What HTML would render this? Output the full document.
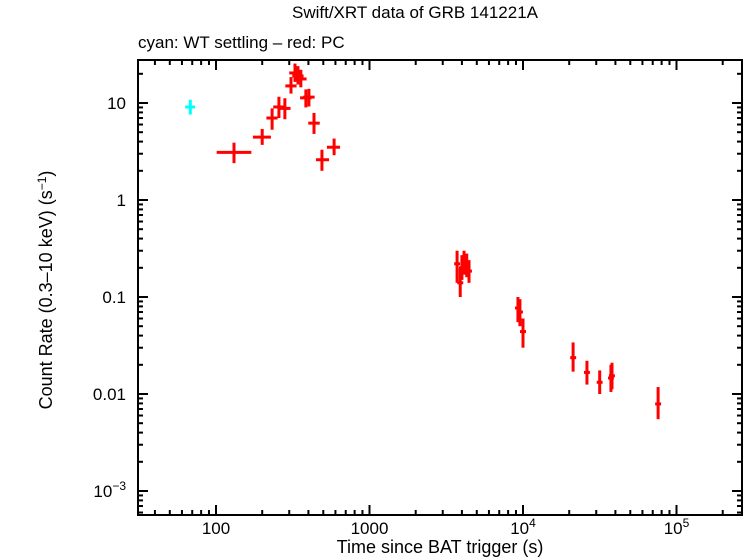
<!DOCTYPE html>
<html><head><meta charset="utf-8"><style>
html,body{margin:0;padding:0;background:#fff;}
svg{display:block;font-family:"Liberation Sans",sans-serif;}
</style></head><body>
<svg id="chart" width="746" height="558" viewBox="0 0 746 558" xmlns="http://www.w3.org/2000/svg">
<text x="415" y="18" font-size="17" text-anchor="middle">Swift/XRT data of GRB 141221A</text>
<text x="138" y="48" font-size="17">cyan: WT settling – red: PC</text>
<text x="440" y="553" font-size="18" text-anchor="middle">Time since BAT trigger (s)</text>
<text transform="translate(52,290) rotate(-90)" font-size="18" text-anchor="middle">Count Rate (0.3–10 keV) (s<tspan dy="-6" font-size="12">−1</tspan><tspan dy="6">)</tspan></text>
<g id="marks"></g>
<g id="axes"></g>
</svg>
<script>
// cyan WT series: time, time err low/high, rate, rate low/high
const wtT=[68], wtTlo=[63], wtThi=[73], wtR=[9.1], wtRlo=[7.6], wtRhi=[10.8];
// red PC series
const pcT=[131,200,232,257,281,308,327,342,357,385,403,435,490,588,3720,3900,4000,4130,4300,4450,9270,9550,10000,21200,26100,31600,37400,38000,75900];
const pcTlo=[101,174,213,236,258,283,300,314,328,353,370,399,448,528,3560,3730,3830,3950,4110,4250,8870,9130,9560,20300,24950,30200,35800,36300,72600];
const pcThi=[170,228,252,280,306,335,356,372,389,419,439,474,545,643,3890,4080,4180,4320,4500,4650,9690,9990,10460,22200,27300,33000,39100,39700,79400];
const pcR=[3.1,4.45,7.0,9.1,8.8,15,20.4,19,17.7,11.3,11.5,6.2,2.6,3.5,0.22,0.14,0.2,0.23,0.21,0.185,0.077,0.07,0.044,0.0237,0.0167,0.0132,0.0146,0.0154,0.0079];
const pcRlo=[2.4,3.7,5.3,7.0,6.8,12.5,16.5,15.5,14.5,9.0,9.2,4.8,2.0,2.9,0.14,0.10,0.15,0.17,0.16,0.14,0.055,0.05,0.03,0.017,0.0125,0.0100,0.0105,0.0112,0.0055];
const pcRhi=[3.9,5.4,8.8,11.6,11.2,18.5,25.5,24,22,13.8,14,7.9,3.3,4.3,0.30,0.20,0.27,0.30,0.28,0.24,0.10,0.095,0.060,0.034,0.022,0.0175,0.0200,0.0210,0.0118];
const xTickVals=[100,1000,10000,100000];
const yTickVals=[10,1,0.1,0.01,0.001];

const L=138,R=742,T=60,B=515;
const X=t=>216+153.5*(Math.log10(t)-2);
const Y=r=>103-97*(Math.log10(r)-1);
const NS="http://www.w3.org/2000/svg";
function mk(tag,attrs,parent){const e=document.createElementNS(NS,tag);for(const k in attrs)e.setAttribute(k,attrs[k]);parent.appendChild(e);return e;}
const marks=document.getElementById('marks'), axes=document.getElementById('axes');

function drawSeries(T_,Tl,Th,Rv,Rl,Rh,color,nm){
  for(let i=0;i<T_.length;i++){
    const g=mk('g',{stroke:color,'stroke-width':3},marks);
    
    
    mk('line',{x1:X(Tl[i]),x2:X(Th[i]),y1:Y(Rv[i]),y2:Y(Rv[i])},g);
    mk('line',{x1:X(T_[i]),x2:X(T_[i]),y1:Y(Rl[i]),y2:Y(Rh[i])},g);
  }
}
drawSeries(wtT,wtTlo,wtThi,wtR,wtRlo,wtRhi,'#00ffff','wt');
drawSeries(pcT,pcTlo,pcThi,pcR,pcRlo,pcRhi,'#ff0000','pc');

const frame=mk('rect',{x:L,y:T,width:R-L,height:B-T,fill:'none',stroke:'#000','stroke-width':2},axes);



for(let d=1;d<=5;d++){for(let m=1;m<10;m++){const v=m*Math.pow(10,d);const x=X(v);if(x<L||x>R)continue;const len=m===1?10:5;
  mk('line',{x1:x,x2:x,y1:B,y2:B-len,stroke:'#000','stroke-width':2},axes);
  mk('line',{x1:x,x2:x,y1:T,y2:T+len,stroke:'#000','stroke-width':2},axes);}}
for(let d=-4;d<=1;d++){for(let m=1;m<10;m++){const v=m*Math.pow(10,d);const y=Y(v);if(y<T||y>B)continue;const len=m===1?10:5;
  mk('line',{x1:L,x2:L+len,y1:y,y2:y,stroke:'#000','stroke-width':2},axes);
  mk('line',{x1:R,x2:R-len,y1:y,y2:y,stroke:'#000','stroke-width':2},axes);}}

function sup(v){const e=Math.round(Math.log10(v));return (v>=100&&v<=1000)||(v<=10&&v>=0.01)?null:e;}
xTickVals.forEach(v=>{const t=mk('text',{x:X(v),y:534,'font-size':17,'text-anchor':'middle'},axes);
  
  
  const e=sup(v); if(e===null)t.textContent=String(v); else {t.textContent='10';const s=mk('tspan',{dy:-7,'font-size':12},t);s.textContent=String(e);}});
yTickVals.forEach(v=>{const t=mk('text',{x:126,y:Y(v)+6,'font-size':17,'text-anchor':'end'},axes);
  
  
  const e=sup(v); if(e===null)t.textContent=String(v); else {t.textContent='10';const s=mk('tspan',{dy:-7,'font-size':12},t);s.textContent=String(e).replace('-','−');}});
</script>
</body></html>
